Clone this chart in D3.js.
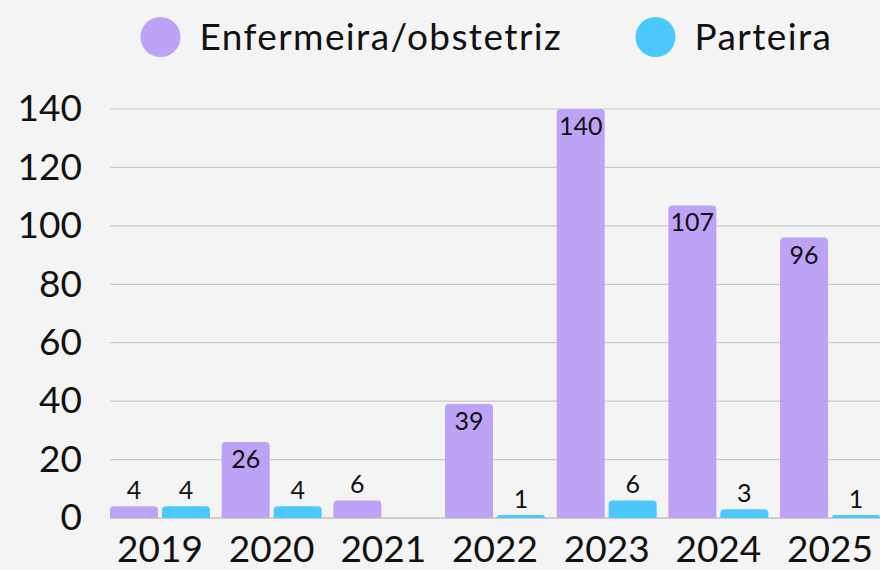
<!DOCTYPE html>
<html>
<head>
<meta charset="utf-8">
<script src="https://cdn.jsdelivr.net/npm/d3@7"></script>
<style>
  html, body { margin: 0; padding: 0; background: #f4f4f4; }
  svg { display: block; font-family: Lato, "Noto Sans", sans-serif; }
</style>
</head>
<body>
<div id="chart"></div>
<script>
var years = ["2019", "2020", "2021", "2022", "2023", "2024", "2025"];
var seriesNames = ["Enfermeira/obstetriz", "Parteira"];
var enfermeira = [4, 26, 6, 39, 140, 107, 96];
var parteira = [4, 4, 0, 1, 6, 3, 1];
var yTicks = [0, 20, 40, 60, 80, 100, 120, 140];
var colors = ["#bca3f6", "#4cc8fe"];

var width = 880, height = 570;

var svg = d3.select("#chart")
    .append("svg")
    .attr("width", width)
    .attr("height", height);

svg.append("rect")
    .attr("width", width)
    .attr("height", height)
    .attr("fill", "#f4f4f4");

var x0 = d3.scaleBand().domain(years).range([110, 880]).paddingInner(0.105).paddingOuter(0);
var x1 = d3.scaleBand().domain(seriesNames).range([0, x0.bandwidth()]).paddingInner(0.077);
var y = d3.scaleLinear().domain([0, 140]).range([518, 109]);

// gridlines
svg.selectAll("line.grid")
    .data(yTicks.slice(1))
    .enter()
    .append("line")
    .attr("class", "grid")
    .attr("x1", 110)
    .attr("x2", width)
    .attr("y1", function(d) { return y(d); })
    .attr("y2", function(d) { return y(d); })
    .attr("stroke", "#c9c9c9")
    .attr("stroke-width", 1.2);

// y axis labels
var yAxis = d3.axisLeft(y).tickValues(yTicks).tickSize(0).tickPadding(0);
var yg = svg.append("g").attr("transform", "translate(82,0)").call(yAxis);
yg.select(".domain").remove();
yg.selectAll("text")
    .attr("font-size", 37)
    .attr("font-family", "Lato, 'Noto Sans', sans-serif")
    .attr("fill", "#111");

// baseline
svg.append("line")
    .attr("x1", 110)
    .attr("x2", width)
    .attr("y1", y(0))
    .attr("y2", y(0))
    .attr("stroke", "#a8a8a8")
    .attr("stroke-width", 1.2);

var rows = years.map(function(yr, i) {
    return { year: yr, values: [
        { name: seriesNames[0], value: enfermeira[i], color: colors[0] },
        { name: seriesNames[1], value: parteira[i], color: colors[1] }
    ]};
});

function topRounded(x, yTop, w, h, r) {
    r = Math.min(r, h, w / 2);
    return "M" + x + "," + (yTop + h) +
        "V" + (yTop + r) +
        "Q" + x + "," + yTop + " " + (x + r) + "," + yTop +
        "H" + (x + w - r) +
        "Q" + (x + w) + "," + yTop + " " + (x + w) + "," + (yTop + r) +
        "V" + (yTop + h) + "Z";
}

var g = svg.selectAll("g.year")
    .data(rows)
    .enter()
    .append("g")
    .attr("class", "year")
    .attr("transform", function(d) { return "translate(" + x0(d.year) + ",0)"; });

g.selectAll("path.bar")
    .data(function(d) { return d.values.filter(function(v) { return v.value > 0; }); })
    .enter()
    .append("path")
    .attr("class", "bar")
    .attr("fill", function(d) { return d.color; })
    .attr("d", function(d) {
        return topRounded(x1(d.name), y(d.value), x1.bandwidth(), y(0) - y(d.value), 4);
    });

g.selectAll("text.val")
    .data(function(d) { return d.values.filter(function(v) { return v.value > 0; }); })
    .enter()
    .append("text")
    .attr("class", "val")
    .attr("text-anchor", "middle")
    .attr("font-size", 25)
    .attr("fill", "#111")
    .attr("x", function(d) { return x1(d.name) + x1.bandwidth() / 2; })
    .attr("y", function(d) {
        var h = y(0) - y(d.value);
        return h > 40 ? y(d.value) + 26 : y(d.value) - 7;
    })
    .text(function(d) { return d.value; });

// x axis labels
var xAxis = d3.axisBottom(x0).tickSize(0).tickPadding(0);
var xg = svg.append("g").attr("transform", "translate(0,532)").call(xAxis);
xg.select(".domain").remove();
xg.selectAll("text")
    .attr("font-size", 37)
    .attr("font-family", "Lato, 'Noto Sans', sans-serif")
    .attr("fill", "#111")
    .attr("dy", "0.8em");

// legend
var legendX = [160.5, 655.5];
var legend = svg.selectAll("g.legend")
    .data(seriesNames)
    .enter()
    .append("g")
    .attr("class", "legend")
    .attr("transform", function(d, i) { return "translate(" + legendX[i] + ",37)"; });

legend.append("circle")
    .attr("r", 20)
    .attr("fill", function(d, i) { return colors[i]; });

legend.append("text")
    .attr("x", 39)
    .attr("y", 13)
    .attr("font-size", 37)
    .attr("letter-spacing", 1.4)
    .attr("fill", "#111")
    .text(function(d) { return d; });
</script>
</body>
</html>
